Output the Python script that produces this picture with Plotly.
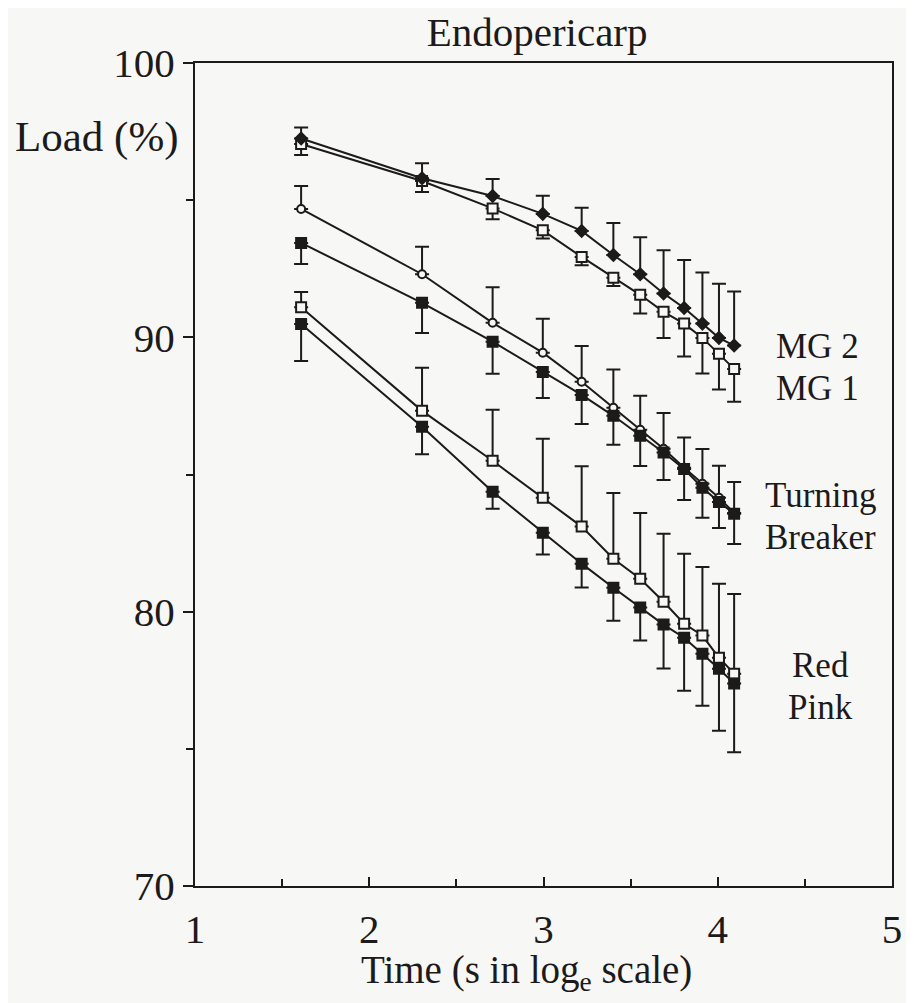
import plotly.graph_objects as go

# Time in ln(seconds)
x_ln = [1.609, 2.303, 2.708, 2.996, 3.219, 3.401, 3.555, 3.689, 3.807, 3.912, 4.007, 4.094]

mg2 = [97.25, 95.8, 95.15, 94.5, 93.88, 93.0, 92.3, 91.6, 91.07, 90.5, 89.98, 89.7]
mg2_err = [0.4, 0.55, 0.62, 0.66, 0.84, 1.17, 1.35, 1.57, 1.75, 1.86, 1.97, 1.97]
mg1 = [97.05, 95.7, 94.7, 93.9, 92.93, 92.17, 91.55, 90.93, 90.5, 89.98, 89.4, 88.85]
mg1_err = [0.4, 0.4, 0.4, 0.3, 0.3, 0.3, 0.68, 0.95, 1.2, 1.3, 1.3, 1.2]
turning = [94.68, 92.3, 90.53, 89.44, 88.38, 87.43, 86.63, 85.94, 85.25, 84.66, 84.15, 83.6]
turning_err = [0.84, 1.0, 1.3, 1.24, 1.3, 1.4, 1.24, 1.3, 1.1, 1.27, 1.17, 1.13]
breaker = [93.44, 91.26, 89.84, 88.74, 87.9, 87.14, 86.41, 85.8, 85.2, 84.52, 84.0, 83.57]
breaker_err = [0.77, 1.1, 1.17, 0.95, 1.06, 1.06, 1.1, 1.0, 1.13, 1.1, 0.95, 1.1]
red = [91.1, 87.32, 85.5, 84.15, 83.1, 81.93, 81.2, 80.36, 79.56, 79.13, 78.32, 77.74]
red_err = [0.55, 1.57, 1.86, 2.15, 2.2, 2.4, 2.4, 2.48, 2.55, 2.5, 2.7, 2.9]
pink = [90.49, 86.74, 84.37, 82.88, 81.75, 80.87, 80.15, 79.53, 79.05, 78.47, 77.92, 77.38]
pink_err = [1.35, 1.0, 0.62, 0.8, 0.87, 1.2, 1.2, 1.6, 1.93, 1.9, 2.26, 2.5]

x_ticks = [1, 2, 3, 4, 5]
y_ticks = [70, 80, 90, 100]

BG = "#f7f7f5"
INK = "#1c1a1a"
FONT = "Liberation Serif"

fig = go.Figure()


def add_series(name, y, err, up, symbol, filled, size):
    n = len(y)
    if up:
        ey = dict(type="data", symmetric=False, array=err, arrayminus=[0] * n,
                  color=INK, thickness=2, width=7)
    else:
        ey = dict(type="data", symmetric=False, array=[0] * n, arrayminus=err,
                  color=INK, thickness=2, width=7)
    fig.add_trace(go.Scatter(
        x=x_ln, y=y, name=name, mode="lines+markers",
        line=dict(color=INK, width=2),
        marker=dict(symbol=symbol, size=size,
                    color=INK if filled else BG,
                    line=dict(color=INK, width=2)),
        error_y=ey, showlegend=False,
    ))


add_series("Red", red, red_err, True, "square", False, 10)
add_series("Pink", pink, pink_err, False, "square", True, 10)
add_series("Turning", turning, turning_err, True, "circle", False, 8)
add_series("Breaker", breaker, breaker_err, False, "square", True, 10)
add_series("MG 1", mg1, mg1_err, False, "square", False, 10)
add_series("MG 2", mg2, mg2_err, True, "diamond", True, 9)

labels = [("MG 2", 4.57, 89.68), ("MG 1", 4.57, 88.15),
          ("Turning", 4.59, 84.25), ("Breaker", 4.59, 82.72),
          ("Red", 4.59, 78.05), ("Pink", 4.59, 76.52)]
for t, lx, ly in labels:
    fig.add_annotation(x=lx, y=ly, text=t, showarrow=False, xanchor="center",
                       yanchor="middle", font=dict(family=FONT, size=35, color=INK))

fig.add_annotation(x=0, y=97.3, xref="paper", xshift=-14, text="Load (%)", showarrow=False,
                   xanchor="right", yanchor="middle",
                   font=dict(family=FONT, size=43, color=INK))

fig.add_annotation(x=0.476, y=0, xref="paper", yref="paper", yshift=-86,
                   text="Time (s in log<sub>e</sub> scale)", showarrow=False,
                   xanchor="center", yanchor="middle",
                   font=dict(family=FONT, size=39, color=INK))

fig.update_layout(
    width=906, height=995,
    paper_bgcolor=BG, plot_bgcolor=BG,
    margin=dict(l=187, r=19, t=55, b=117),
    title=dict(text="Endopericarp", x=0.584, xanchor="center", y=0.976, yanchor="middle",
               font=dict(family=FONT, size=41, color=INK)),
    font=dict(family=FONT, color=INK),
)

fig.update_xaxes(
    range=[1, 5], tickvals=x_ticks, ticktext=[str(v) for v in x_ticks],
    showgrid=False, zeroline=False, showline=True, linecolor=INK, linewidth=2,
    mirror=True, ticks="inside", ticklen=9, tickwidth=2, tickcolor=INK,
    minor=dict(dtick=0.5, tick0=1, ticks="inside", ticklen=7, tickwidth=2, tickcolor=INK),
    tickfont=dict(family=FONT, size=41, color=INK), ticklabelstandoff=6,
)
fig.update_yaxes(
    range=[70, 100], tickvals=y_ticks, ticktext=[str(v) for v in y_ticks],
    showgrid=False, zeroline=False, showline=True, linecolor=INK, linewidth=2,
    mirror=True, ticks="outside", ticklen=10, tickwidth=2, tickcolor=INK,
    minor=dict(dtick=5, tick0=70, ticks="outside", ticklen=7, tickwidth=2, tickcolor=INK),
    tickfont=dict(family=FONT, size=41, color=INK),
)

fig.write_html("out.html")
